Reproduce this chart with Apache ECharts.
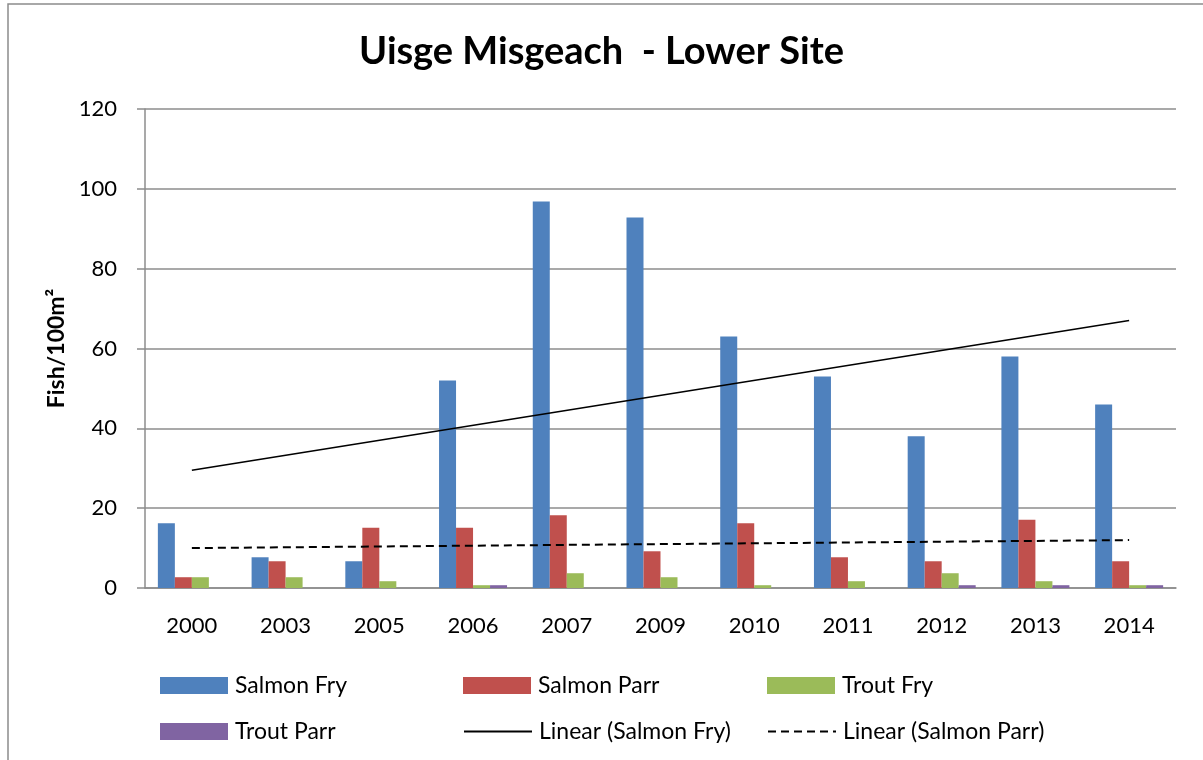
<!DOCTYPE html>
<html>
<head>
<meta charset="utf-8">
<script src="https://cdn.jsdelivr.net/npm/echarts@6/dist/echarts.min.js"></script>
<style>
html, body { margin: 0; padding: 0; background: #fff; }
#main { width: 1203px; height: 760px; }
</style>
</head>
<body>
<div id="main"></div>
<script>
// data
var years = ['2000', '2003', '2005', '2006', '2007', '2009', '2010', '2011', '2012', '2013', '2014'];
var salmonFry = [16.2, 7.7, 6.7, 52, 96.8, 92.8, 63, 53, 38, 58, 46];
var salmonParr = [2.7, 6.7, 15.1, 15.1, 18.2, 9.2, 16.2, 7.7, 6.7, 17.1, 6.7];
var troutFry = [2.7, 2.7, 1.7, 0.7, 3.7, 2.7, 0.7, 1.7, 3.7, 1.7, 0.7];
var troutParr = [0, 0, 0, 0.7, 0, 0, 0, 0, 0.7, 0.7, 0.7];
// trend line end points (first and last year)
var fryTrend = [29.5, 67];
var parrTrend = [10, 12];
var yTicks = { min: 0, max: 120, step: 20 };

var FONT = 'Lato';

var endPoints = function(ends) {
	var arr = [];
	for (var i = 0; i < years.length; i++) {
		arr.push(null);
	}
	arr[0] = ends[0];
	arr[years.length - 1] = ends[1];
	return arr;
};

var myChart = echarts.init(document.getElementById('main'));

// one legend per item so each sits where the reference has it
var legendPos = [
	['Salmon Fry', 155, 669],
	['Salmon Parr', 458, 669],
	['Trout Fry', 762, 669],
	['Trout Parr', 155, 715],
	['Linear (Salmon Fry)', 458, 715],
	['Linear (Salmon Parr)', 762, 715]
];
var legends = [];
for (var i = 0; i < legendPos.length; i++) {
	var item = { name: legendPos[i][0] };
	if (i > 3) {
		item.itemStyle = { opacity: 0 }; // hide the dot on line icons
	} else {
		item.icon = 'rect';
	}
	legends.push({
		left: legendPos[i][1],
		top: legendPos[i][2],
		itemWidth: 68,
		itemHeight: 17,
		itemGap: 0,
		textStyle: { fontFamily: FONT, fontSize: 23, color: '#000', padding: [0, 0, 0, 2] },
		data: [item]
	});
}

var option = {
	animation: false,
	backgroundColor: '#fff',
	textStyle: { fontFamily: FONT },
	graphic: [{
		type: 'rect',
		shape: { x: 8, y: 4, width: 1400, height: 900 },
		style: { fill: 'none', stroke: '#8c8c8c', lineWidth: 1.5 }
	}],
	title: {
		text: 'Uisge Misgeach  - Lower Site',
		left: 'center',
		top: 28,
		textStyle: { fontFamily: FONT, fontSize: 38, fontWeight: 'bold', color: '#000' }
	},
	legend: legends,
	grid: { left: 145, right: 27, top: 109, bottom: 172 },
	xAxis: {
		type: 'category',
		data: years,
		axisLine: { lineStyle: { color: '#8c8c8c', width: 1.5 } },
		axisTick: { length: 8, lineStyle: { color: '#8c8c8c', width: 1.5 } },
		axisLabel: { margin: 27, fontFamily: FONT, fontSize: 22, color: '#000' }
	},
	yAxis: {
		type: 'value',
		min: yTicks.min,
		max: yTicks.max,
		interval: yTicks.step,
		name: 'Fish/100m²',
		nameLocation: 'middle',
		nameGap: 71,
		nameTextStyle: { fontFamily: FONT, fontSize: 23, fontWeight: 'bold', color: '#000' },
		axisLine: { show: true, lineStyle: { color: '#8c8c8c', width: 1.5 } },
		axisTick: { show: true, length: 8, lineStyle: { color: '#8c8c8c', width: 1.5 } },
		axisLabel: { margin: 28, fontFamily: FONT, fontSize: 22, color: '#000' },
		splitLine: { lineStyle: { color: '#8c8c8c', width: 1.5 } }
	},
	series: [{
		name: 'Salmon Fry', type: 'bar', data: salmonFry,
		barWidth: 17, barGap: '0%', itemStyle: { color: '#4F81BD' }
	}, {
		name: 'Salmon Parr', type: 'bar', data: salmonParr,
		barWidth: 17, barGap: '0%', itemStyle: { color: '#C0504D' }
	}, {
		name: 'Trout Fry', type: 'bar', data: troutFry,
		barWidth: 17, barGap: '0%', itemStyle: { color: '#9BBB59' }
	}, {
		name: 'Trout Parr', type: 'bar', data: troutParr,
		barWidth: 17, barGap: '0%', itemStyle: { color: '#8064A2' }
	}, {
		name: 'Linear (Salmon Fry)', type: 'line', data: endPoints(fryTrend),
		connectNulls: true, symbol: 'none', z: 5,
		lineStyle: { color: '#000', width: 1.5 }, itemStyle: { color: '#000' }
	}, {
		name: 'Linear (Salmon Parr)', type: 'line', data: endPoints(parrTrend),
		connectNulls: true, symbol: 'none', z: 5,
		lineStyle: { color: '#000', width: 2, type: [8, 5] }, itemStyle: { color: '#000' }
	}]
};
myChart.setOption(option);
</script>
</body>
</html>
